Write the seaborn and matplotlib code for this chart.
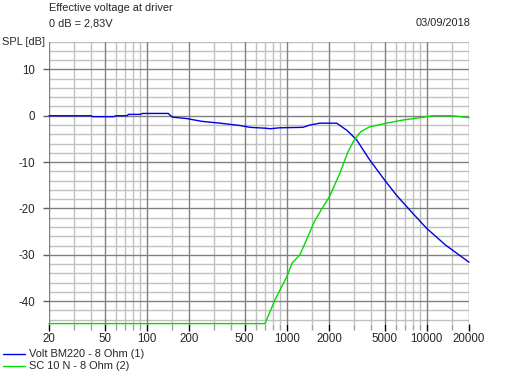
import numpy as np
import pandas as pd
import matplotlib
matplotlib.use("Agg")
import matplotlib.pyplot as plt
from matplotlib.lines import Line2D
from matplotlib.ticker import FixedLocator, NullFormatter
import seaborn as sns

# ---- data ----
blue_freq = [20, 40, 41, 58, 60, 72, 74, 90, 93, 142, 152, 192, 246, 333, 461, 546, 715, 761,
             888, 1300, 1460, 1720, 2270, 2672, 2830, 3150, 3900, 5000, 6050, 7900, 9970,
             13600, 20000]
blue_spl = [0.0, 0.0, -0.2, -0.2, 0.0, 0.0, 0.3, 0.3, 0.5, 0.5, -0.3, -0.6, -1.2, -1.6, -2.1,
            -2.5, -2.7, -2.8, -2.6, -2.5, -2.0, -1.6, -1.6, -3.1, -3.8, -5.2, -9.5, -13.9,
            -17.1, -21.0, -24.3, -27.9, -31.6]

green_freq = [20, 698, 823, 1000, 1090, 1240, 1380, 1575, 1760, 2020, 2390, 2730, 3030, 3380,
              3900, 5150, 6820, 8980, 11000, 15000, 20000]
green_spl = [-44.85, -44.85, -39.7, -34.7, -31.8, -30.0, -26.8, -22.8, -20.3, -17.4, -12.4,
             -7.8, -5.2, -3.4, -2.4, -1.6, -0.9, -0.4, 0.0, 0.0, -0.4]

series_names = ["Volt BM220 - 8 Ohm (1)", "SC 10 N - 8 Ohm (2)"]
series_colors = ["#0000E0", "#00DD00"]

x_major = [20, 50, 100, 200, 500, 1000, 2000, 5000, 10000, 20000]
x_major_labels = ["20", "50", "100", "200", "500", "1000", "2000", "5000", "10000", "20000"]
x_minor = [30, 40, 60, 70, 80, 90, 150, 300, 400, 600, 700, 800, 900, 1500,
           3000, 4000, 6000, 7000, 8000, 9000, 15000]
y_major = [10, 0, -10, -20, -30, -40]

title_line1 = "Effective voltage at driver"
title_line2 = "0 dB = 2,83V"
date_text = "03/09/2018"
ylabel_text = "SPL [dB]"

# ---- build dataframe ----
df = pd.concat([
    pd.DataFrame({"freq": blue_freq, "spl": blue_spl, "series": series_names[0]}),
    pd.DataFrame({"freq": green_freq, "spl": green_spl, "series": series_names[1]}),
], ignore_index=True)

sns.set_theme(style="white")
plt.rcParams["font.family"] = ["Liberation Sans", "DejaVu Sans"]
FS = 7.9

W, H = 515, 373
fig = plt.figure(figsize=(W / 100, H / 100), dpi=100)
fig.patch.set_facecolor("white")

left, right, top, bottom = 49, 469, 41.6, 324.3
ax = fig.add_axes([left / W, 1 - bottom / H, (right - left) / W, (bottom - top) / H])
ax.set_facecolor("white")

ax.set_xscale("log")
ax.set_xlim(20, 20000)
ax.set_ylim(-45, 16)

y_minor = [v for v in range(-44, 17, 2) if v % 10 != 0]

for v in x_minor:
    ax.axvline(v, color="#C0C0C0", lw=1.0, zorder=0)
for v in y_minor:
    ax.axhline(v, color="#C0C0C0", lw=1.0, zorder=0)
for v in x_major:
    ax.axvline(v, color="#808080", lw=1.0, zorder=0.5)
for v in y_major:
    ax.axhline(v, color="#808080", lw=1.0, zorder=0.5)

sns.lineplot(data=df, x="freq", y="spl", hue="series", palette=series_colors,
             hue_order=series_names, legend=False, ax=ax, lw=1.0, sort=False,
             estimator=None, zorder=3)
for ln in ax.get_lines():
    if ln.get_color() in series_colors:
        ln.set_clip_on(False)

for s in ax.spines.values():
    s.set_visible(False)

ax.xaxis.set_major_locator(FixedLocator(x_major))
ax.set_xticklabels(x_major_labels)
ax.xaxis.set_minor_locator(FixedLocator(x_minor))
ax.xaxis.set_minor_formatter(NullFormatter())
ax.yaxis.set_major_locator(FixedLocator(y_major))
ax.set_yticklabels([str(v) for v in y_major])
ax.tick_params(axis="x", which="major", direction="out", length=5, width=1,
               color="black", labelsize=FS + 0.4, pad=1.5, bottom=True)
ax.tick_params(axis="x", which="minor", direction="out", length=4, width=1,
               color="#A0A0A0", bottom=True)
ax.tick_params(axis="y", which="major", direction="out", length=4, width=1,
               color="#606060", labelsize=FS + 0.4, pad=6, left=True)
ax.set_xlabel("")
ax.set_ylabel("")

# header texts
fig.text(49 / W, 1 - 8 / H, title_line1, ha="left", va="center", fontsize=FS)
fig.text(49 / W, 1 - 23 / H, title_line2, ha="left", va="center", fontsize=FS)
fig.text(470 / W, 1 - 23 / H, date_text, ha="right", va="center", fontsize=FS)
fig.text(2 / W, 1 - 42 / H, ylabel_text, ha="left", va="center", fontsize=FS)

# legend
for i, (name, col) in enumerate(zip(series_names, series_colors)):
    y = 1 - (354 + 12 * i) / H
    fig.add_artist(Line2D([3 / W, 25 / W], [y, y], color=col, lw=1.0,
                          transform=fig.transFigure))
    fig.text(29 / W, y, name, ha="left", va="center", fontsize=FS)

fig.savefig("out.png", dpi=100)
